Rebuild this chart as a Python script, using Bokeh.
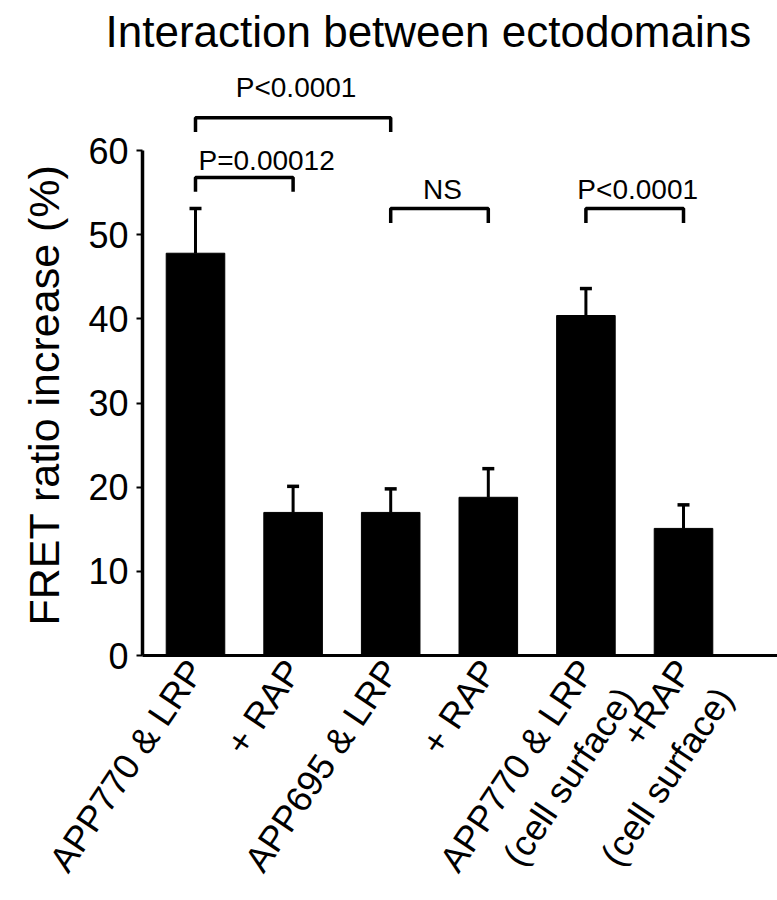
import numpy as np
from bokeh.plotting import figure
from bokeh.models import (Range1d, FixedTicker, Whisker, TeeHead, ColumnDataSource,
                          Title)
from bokeh.core.properties import value
from bokeh.embed import file_html
from bokeh.resources import INLINE

FONT = "Liberation Sans"

# ---- data ----
categories = ["APP770 & LRP", "+ RAP", "APP695 & LRP", "+ RAP",
              "APP770 & LRP\n(cell surface)", "+RAP\n(cell surface)"]
means = [47.8, 17.0, 17.0, 18.8, 40.4, 15.1]
errors = [5.3, 3.1, 2.8, 3.4, 3.2, 2.8]
y_ticks = [0, 10, 20, 30, 40, 50, 60]
title_text = "Interaction between ectodomains"
y_label_text = "FRET ratio increase (%)"

# significance brackets: bar index pairs, bracket level, label
bracket_left = [0, 0, 2, 4]
bracket_right = [2, 1, 3, 5]
bracket_level = [63.9, 56.8, 53.1, 53.1]
bracket_text = ["P<0.0001", "P=0.00012", "NS", "P<0.0001"]

# ---- styling ----
text_align = ["center", "left", "center", "center"]
text_gap_px = [30, 17, 19, 19]
tick_len = 1.7
FRAME_W, FRAME_H = 635, 595
X_START, X_END = -0.543, 5.963
Y_END = 70.7
ppu = FRAME_H / Y_END

idx = np.arange(len(categories))
upper = [m + e for m, e in zip(means, errors)]
# a blank leading line keeps the first text line of two-line labels on the tick
tick_labels = ["\n" + c if "\n" in c else c for c in categories]

p = figure(frame_width=FRAME_W, frame_height=FRAME_H,
           x_range=Range1d(X_START, X_END), y_range=Range1d(0, Y_END),
           output_backend="svg", toolbar_location=None,
           min_border_left=142, min_border_right=0, min_border_top=60,
           min_border_bottom=245, background_fill_color="white",
           border_fill_color="white")
p.outline_line_color = None
p.grid.visible = False

p.add_layout(Title(text=title_text, text_font=FONT, text_font_size="44px",
                   text_font_style="normal", text_color="black",
                   align="left", offset=-37, standoff=9), "above")
p.add_layout(Title(text=y_label_text, text_font=FONT, text_font_size="43px",
                   text_font_style="normal", text_color="black",
                   align="left", offset=30, standoff=35), "left")

src = ColumnDataSource(dict(x=idx, top=means, upper=upper))
p.vbar(x="x", top="top", bottom=0, width=0.6, source=src,
       fill_color="black", line_color="black")

w = Whisker(base="x", lower="top", upper="upper", source=src,
            line_color="black", line_width=3,
            upper_head=TeeHead(size=12, line_width=3.5, line_color="black"),
            lower_head=None)
p.add_layout(w)

# brackets
xs, ys = [], []
for l, r, lv in zip(bracket_left, bracket_right, bracket_level):
    xs.append([idx[l], idx[l], idx[r], idx[r]])
    ys.append([lv - tick_len, lv, lv, lv - tick_len])
p.multi_line(xs, ys, line_color="black", line_width=3.5)

tx, ty = [], []
for l, r, a, lv, g in zip(bracket_left, bracket_right, text_align,
                          bracket_level, text_gap_px):
    tx.append((idx[l] + idx[r]) / 2 if a == "center" else idx[l])
    ty.append(lv + g / ppu)
tsrc = ColumnDataSource(dict(x=tx, y=ty, text=bracket_text, align=text_align))
p.text(x="x", y="y", text="text", source=tsrc, text_align="align",
       text_baseline="alphabetic", x_offset=3,
       text_font=value(FONT), text_font_size="28px", text_color="black")

# axes
ya = p.yaxis[0]
ya.ticker = FixedTicker(ticks=y_ticks)
ya.bounds = (0, 60)
ya.axis_line_width = 3.5
ya.axis_line_color = "black"
ya.major_tick_out = 6
ya.major_tick_in = 0
ya.major_tick_line_width = 2
ya.major_tick_line_color = "black"
ya.minor_tick_line_color = None
ya.major_label_text_font = FONT
ya.major_label_text_font_size = "36px"
ya.major_label_text_color = "black"
ya.major_label_standoff = 8

xa = p.xaxis[0]
xa.ticker = FixedTicker(ticks=list(idx))
xa.major_label_overrides = {int(i): c for i, c in zip(idx, tick_labels)}
xa.axis_line_width = 3
xa.axis_line_color = "black"
xa.major_tick_out = 0
xa.major_tick_in = 0
xa.minor_tick_line_color = None
xa.major_label_orientation = np.deg2rad(56)
xa.major_label_text_font = FONT
xa.major_label_text_font_size = "36px"
xa.major_label_text_color = "black"
xa.major_label_standoff = 8

open("out.html", "w").write(file_html(p, INLINE))
